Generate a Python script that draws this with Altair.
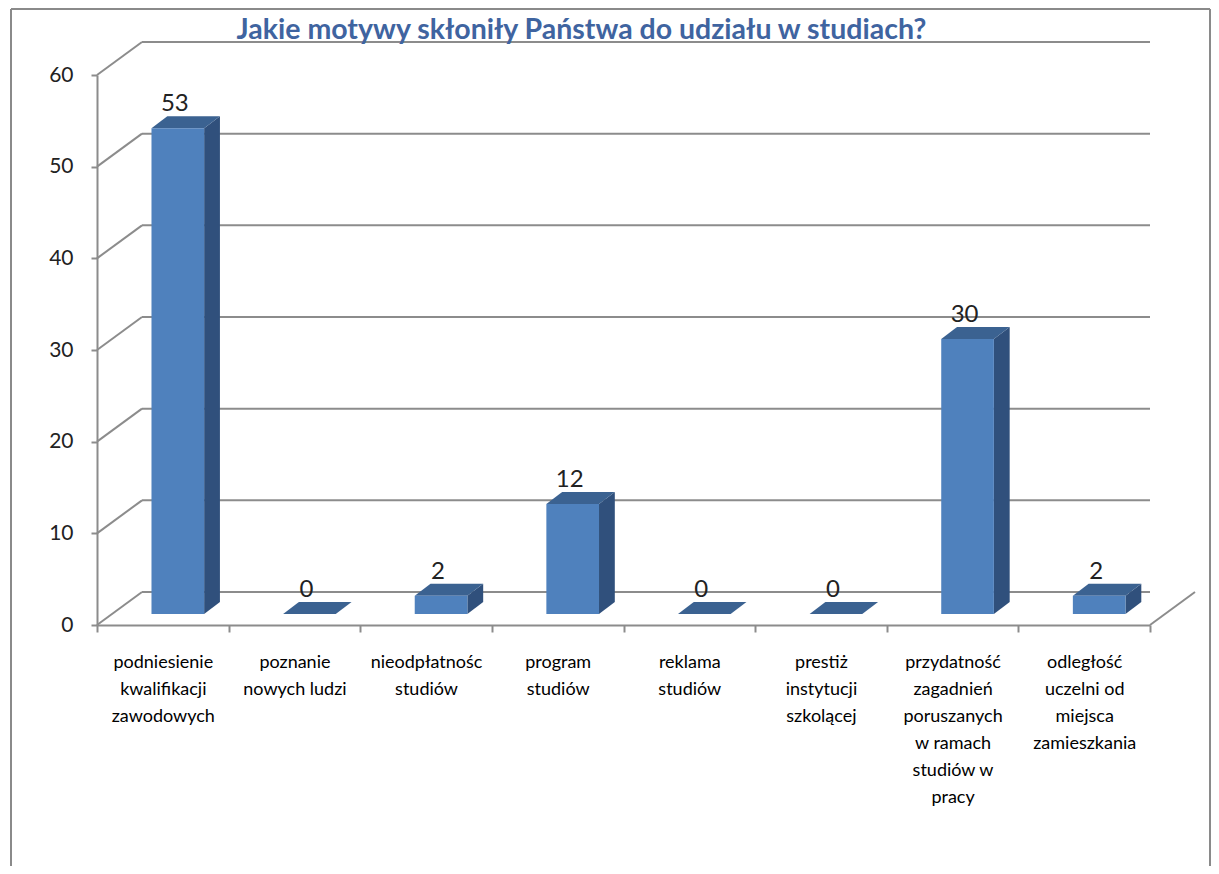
import json
import altair as alt
import pandas as pd

# ---- data ----
label_lines = [
    ["podniesienie", "kwalifikacji", "zawodowych"],
    ["poznanie", "nowych ludzi"],
    ["nieodpłatnośc", "studiów"],
    ["program", "studiów"],
    ["reklama", "studiów"],
    ["prestiż", "instytucji", "szkolącej"],
    ["przydatność", "zagadnień", "poruszanych", "w ramach", "studiów w", "pracy"],
    ["odległość", "uczelni od", "miejsca", "zamieszkania"],
]
values = [53, 0, 2, 12, 0, 0, 30, 2]
y_ticks = [0, 10, 20, 30, 40, 50, 60]
title_text = "Jakie motywy skłoniły Państwa do udziału w studiach?"

# ---- style constants ----
W, H = 1053, 550
FONT = "Lato"
GRID = "#8C8C8C"
FRONT = "#4F81BD"
SIDE = "#30507C"
TOP = "#3B6291"
BAR_HALF = 0.2          # half bar width, in category steps
DEPTH_X = 0.12          # bar depth, in category steps
DEPTH_Y = 1.3           # bar depth, in value units
FX, FY = 15, -11        # front face offset inside the 3-D box (px)
WALL_X, WALL_Y = 45, -33  # back wall offset (px)

n = len(values)
xscale = alt.Scale(domain=[0, n], nice=False, zero=False)
yscale = alt.Scale(domain=[0, 60], nice=False)

label_expr = "datum.value < {n} ? {arr}[datum.value] : ''".format(
    n=n, arr=json.dumps(label_lines, ensure_ascii=False)
)
xaxis = alt.Axis(
    values=list(range(n + 1)), labelExpr=label_expr, labelOffset=W / n / 2,
    tickSize=7, tickColor=GRID, tickWidth=2, domainColor=GRID, domainWidth=2,
    labelFont=FONT, labelFontSize=18, labelColor="#000000",
    labelBaseline="top", labelAlign="center", labelLineHeight=27,
    labelPadding=21, labelOverlap=False, labelFlush=False, grid=False, title=None,
)
yaxis = alt.Axis(
    values=y_ticks, tickSize=6, tickColor=GRID, tickWidth=2,
    domainColor=GRID, domainWidth=2, labelFont=FONT, labelFontSize=21,
    labelColor="#222222", labelPadding=18, grid=False, title=None,
)

bars = pd.DataFrame({"cat": list(range(n)), "v": values})
bars["L"] = bars["cat"] + 0.5 - BAR_HALF
bars["R"] = bars["cat"] + 0.5 + BAR_HALF
bars["C"] = bars["cat"] + 0.5

side_rows, top_rows = [], []
for i, v in enumerate(values):
    L, R = i + 0.5 - BAR_HALF, i + 0.5 + BAR_HALF
    side_rows += [
        {"cat": i, "x": R, "top": v, "base": 0},
        {"cat": i, "x": R + DEPTH_X, "top": v + DEPTH_Y, "base": DEPTH_Y},
    ]
    top_rows += [
        {"cat": i, "y": v, "xl": L, "xr": R},
        {"cat": i, "y": v + DEPTH_Y, "xl": L + DEPTH_X, "xr": R + DEPTH_X},
    ]
side_df = pd.DataFrame(side_rows)
top_df = pd.DataFrame(top_rows)
ticks_df = pd.DataFrame({"t": y_ticks})
zero_df = pd.DataFrame({"t": [0]})

# back wall gridlines
wall = alt.Chart(ticks_df).mark_rule(
    color=GRID, strokeWidth=2, yOffset=WALL_Y
).encode(
    x=alt.value(WALL_X), x2=alt.value("width"),
    y=alt.Y("t:Q", scale=yscale, axis=yaxis),
)
diag = alt.Chart(ticks_df).mark_rule(
    color=GRID, strokeWidth=2, y2Offset=WALL_Y
).encode(
    x=alt.value(0), x2=alt.value(WALL_X),
    y=alt.Y("t:Q", scale=yscale, axis=yaxis), y2="t:Q",
)
floor_diag = alt.Chart(zero_df).mark_rule(
    color=GRID, strokeWidth=2, x2Offset=WALL_X, y2Offset=WALL_Y
).encode(
    x=alt.value("width"), x2=alt.value("width"),
    y=alt.Y("t:Q", scale=yscale, axis=yaxis), y2="t:Q",
)

side = alt.Chart(side_df).mark_area(
    color=SIDE, xOffset=FX, yOffset=FY, y2Offset=FY
).encode(
    x=alt.X("x:Q", scale=xscale, axis=xaxis),
    y=alt.Y("top:Q", scale=yscale, axis=yaxis), y2="base:Q",
    detail="cat:N",
)
topface = alt.Chart(top_df).mark_area(
    color=TOP, orient="horizontal", xOffset=FX, x2Offset=FX, yOffset=FY
).encode(
    y=alt.Y("y:Q", scale=yscale, axis=yaxis),
    x=alt.X("xl:Q", scale=xscale, axis=xaxis), x2="xr:Q",
    detail="cat:N",
)
front = alt.Chart(bars).mark_bar(
    color=FRONT, xOffset=FX, x2Offset=FX, yOffset=FY, y2Offset=FY
).encode(
    x=alt.X("L:Q", scale=xscale, axis=xaxis), x2="R:Q",
    y=alt.Y("v:Q", scale=yscale, axis=yaxis), y2=alt.datum(0),
)
text = alt.Chart(bars).mark_text(
    font=FONT, fontSize=24, color="#222222", baseline="alphabetic",
    xOffset=FX - 3, yOffset=FY - 17,
).encode(
    x=alt.X("C:Q", scale=xscale, axis=xaxis),
    y=alt.Y("v:Q", scale=yscale, axis=yaxis),
    text="v:Q",
)

FRAME = "#8A8A8A"
frame_l = alt.Chart(zero_df).mark_rule(color=FRAME, strokeWidth=2).encode(
    x=alt.value(-86), y=alt.value(-66), y2=alt.value(H + 241))
frame_r = alt.Chart(zero_df).mark_rule(color=FRAME, strokeWidth=2).encode(
    x=alt.value(W + 60), y=alt.value(-66), y2=alt.value(H + 241))
frame_t = alt.Chart(zero_df).mark_rule(color=FRAME, strokeWidth=2).encode(
    x=alt.value(-86), x2=alt.value(W + 60), y=alt.value(-66))

chart = alt.layer(
    frame_l, frame_r, frame_t, wall, diag, floor_diag, side, topface, front, text
).properties(
    width=W, height=H,
    padding={"left": 89, "top": 67, "right": 61, "bottom": 241},
    autosize=alt.AutoSizeParams(type="none"),
    background="white",
    title=alt.Title(
        title_text, font=FONT, fontSize=28.5, fontWeight="bold", color="#3F64A0",
        anchor="middle", frame="group", dx=-42, offset=-59, baseline="alphabetic",
    ),
).configure_view(stroke=None)

chart.save("out.html", embed_options={"renderer": "svg", "actions": False})
